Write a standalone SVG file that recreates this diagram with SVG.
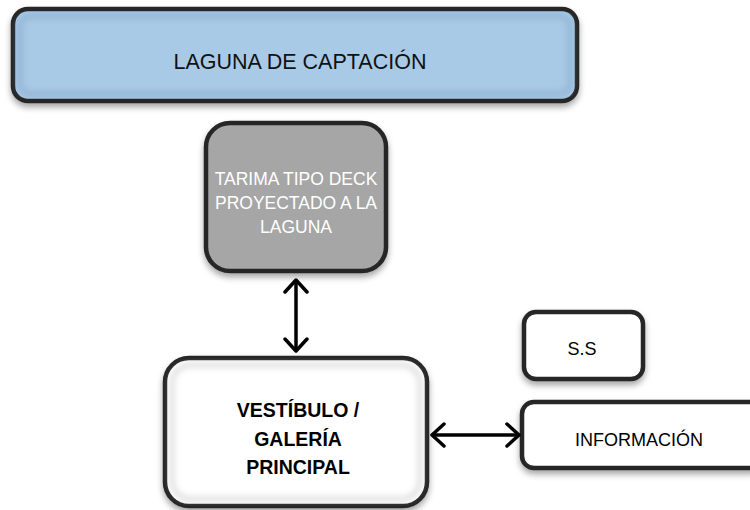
<svg xmlns="http://www.w3.org/2000/svg" width="750" height="510" viewBox="0 0 750 510">
<defs>
<filter id="sh" x="-10%" y="-10%" width="120%" height="130%">
<feDropShadow dx="0" dy="4" stdDeviation="3" flood-color="#000" flood-opacity="0.35"/>
</filter>
<filter id="glow" x="-5%" y="-5%" width="110%" height="110%">
<feGaussianBlur stdDeviation="3"/>
</filter>
<marker id="chev" viewBox="0 0 16 26" refX="14" refY="13" markerWidth="16" markerHeight="26" markerUnits="userSpaceOnUse" orient="auto-start-reverse">
<path d="M2,2 L14,13 L2,24" fill="none" stroke="#000" stroke-width="3.5" stroke-linecap="round" stroke-linejoin="round"/>
</marker>
</defs>
<style>
.box{stroke:#262626;stroke-width:4.5}
.t{font-family:"Liberation Sans",Arial,sans-serif;text-anchor:middle}
.conn{stroke:#000;stroke-width:3.5;fill:none}
</style>
<g id="laguna">
<rect class="box" x="13" y="9" width="564" height="92" rx="15" fill="#a9cae6" filter="url(#sh)"/>
<rect x="20" y="16" width="550" height="78" rx="10" fill="none" stroke="#7fa5c8" stroke-width="5" opacity="0.6" filter="url(#glow)"/>
<text class="t" x="300" y="69" font-size="21.5" fill="#111">LAGUNA DE CAPTACIÓN</text>
</g>
<g id="tarima">
<rect class="box" x="206" y="123" width="180" height="148" rx="24" fill="#a6a6a6" filter="url(#sh)"/>
<text class="t" x="296" y="185" font-size="17.5" fill="#fff">TARIMA TIPO DECK</text>
<text class="t" x="296" y="209" font-size="17.5" fill="#fff">PROYECTADO A LA</text>
<text class="t" x="296" y="233" font-size="17.5" fill="#fff">LAGUNA</text>
</g>
<g id="vestibulo">
<rect class="box" x="165" y="358" width="262" height="148" rx="24" fill="#fff" filter="url(#sh)"/>
<rect x="172" y="365" width="248" height="134" rx="18" fill="none" stroke="#bbb" stroke-width="4" opacity="0.6" filter="url(#glow)"/>
<text class="t" x="298" y="417" font-size="19.5" font-weight="bold" fill="#000">VESTÍBULO /</text>
<text class="t" x="298" y="446" font-size="19.5" font-weight="bold" fill="#000">GALERÍA</text>
<text class="t" x="298" y="474" font-size="19.5" font-weight="bold" fill="#000">PRINCIPAL</text>
</g>
<g id="ss">
<rect class="box" x="524" y="312" width="119" height="67" rx="12" fill="#fff" filter="url(#sh)"/>
<text class="t" x="582" y="355" font-size="18" fill="#000">S.S</text>
</g>
<g id="informacion">
<rect class="box" x="522" y="402" width="240" height="66" rx="12" fill="#fff" filter="url(#sh)"/>
<text class="t" x="639" y="446" font-size="18" fill="#000">INFORMACIÓN</text>
</g>
<g id="connectors">
<line class="conn" x1="296" y1="280" x2="296" y2="351" marker-start="url(#chev)" marker-end="url(#chev)"/>
<line class="conn" x1="432" y1="435" x2="519" y2="435" marker-start="url(#chev)" marker-end="url(#chev)"/>
</g>
</svg>
